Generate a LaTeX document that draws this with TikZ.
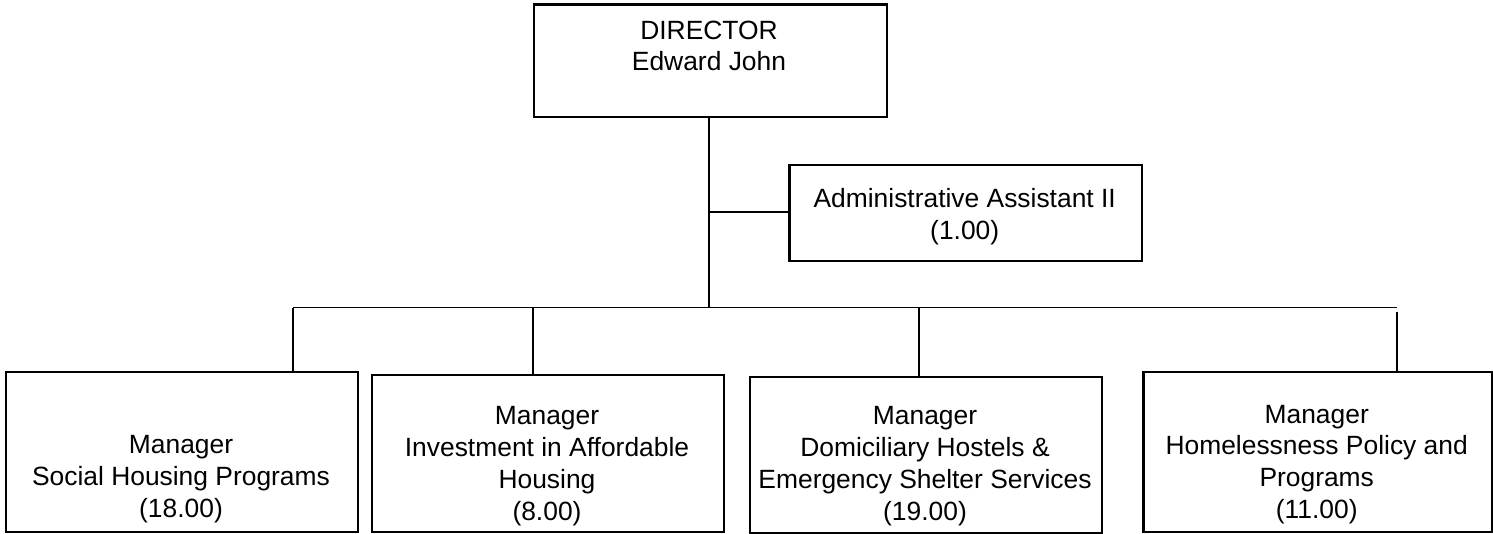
\documentclass[tikz,border=0pt]{standalone}
\usepackage{fontspec}
\setmainfont{Liberation Sans}
\begin{document}
\begin{tikzpicture}[x=1pt,y=-1pt,
  box/.style={draw=black,line width=2.2pt,inner sep=0pt,anchor=north west},
  link/.style={draw=black,line width=1.7pt},
  lbl/.style={inner sep=0pt,align=center,anchor=base,font=\fontsize{26.4}{31.7}\selectfont}]
\useasboundingbox (0,0) rectangle (1493,533);
% boxes
\node[box,minimum width=353pt,minimum height=112.4pt] (dir) at (532.7,3.3) {};
\node[box,minimum width=352.7pt,minimum height=96pt] (adm) at (788.3,163.5) {};
\node[box,minimum width=352pt,minimum height=160.3pt] (m1) at (5,370.7) {};
\node[box,minimum width=351.7pt,minimum height=157.5pt] (m2) at (371,373.5) {};
\node[box,minimum width=352pt,minimum height=155.5pt] (m3) at (749,376) {};
\node[box,minimum width=349pt,minimum height=160pt] (m4) at (1142.3,371) {};
% texts (anchored at the baseline of the last line)
\node[lbl] (tdir) at (709,70.7) {DIRECTOR\\Edward John};
\node[lbl] (tadm) at (964.7,239) {Administrative Assistant II\\(1.00)};
\node[lbl] (t1) at (181,517) {Manager\\Social Housing Programs\\(18.00)};
\node[lbl] (t2) at (547,520) {Manager\\Investment in Affordable\\Housing\\(8.00)};
\node[lbl] (t3) at (925,520) {Manager\\Domiciliary Hostels \&\\Emergency Shelter Services\\(19.00)};
\node[lbl] (t4) at (1316.7,518.3) {Manager\\Homelessness Policy and\\Programs\\(11.00)};
% connectors
\coordinate (trunk) at (709,307.5);
\coordinate (tie) at (709,211.7);
\coordinate (b1) at (292.7,307.5);
\coordinate (b2) at (532.7,307.5);
\coordinate (b3) at (919,307.5);
\coordinate (b4) at (1396.7,307.5);
\coordinate (b4s) at (1396.7,311.7);
\draw[link] (dir.south -| trunk) -- (trunk);
\draw[link] (tie) -- (tie -| adm.west);
\draw[link] (b1) -- (b4);
\draw[link] (b1) -- (b1 |- m1.north);
\draw[link] (b2) -- (b2 |- m2.north);
\draw[link] (b3) -- (b3 |- m3.north);
\draw[link] (b4s) -- (b4s |- m4.north);
\end{tikzpicture}
\end{document}
